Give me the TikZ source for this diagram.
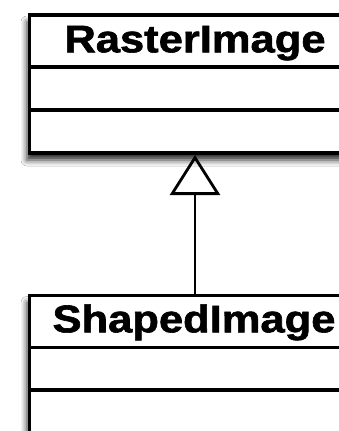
\documentclass[tikz,border=0pt]{standalone}
\usepackage{fontspec}
\setmainfont{Liberation Sans}
\newfontfamily\classfont[FakeBold=1.5]{Liberation Sans Bold}
\usetikzlibrary{arrows.meta,shadows.blur}
\tikzset{
  classbox/.style={draw=black, fill=white, line width=3.2pt, outer sep=0pt,
    minimum width=331pt, minimum height=138pt, inner sep=0pt,
    blur shadow={shadow xshift=-2.5pt, shadow yshift=-7pt, shadow blur radius=6pt, shadow opacity=85}},
  classname/.style={anchor=base, inner sep=0pt, font=\fontsize{38.5pt}{42pt}\classfont},
  sepline/.style={line width=3.2pt},
  inherit/.style={line width=2.8pt, -{Triangle[open, length=40pt, width=50pt, line width=2.8pt]}}
}
\newcommand{\cname}[1]{\scalebox{1.13}[1]{#1}}
\begin{document}
\begin{tikzpicture}[x=1pt,y=1pt]
  \clip (0,0) rectangle (339,-431);
  \fill[white] (0,0) rectangle (339,-431);
  \node[classbox] (raster) at (195,-84) {};
  \node[classbox] (shaped) at (195,-364.5) {};
  \node[classname] (rastername) at (195,-52.3) {\cname{RasterImage}};
  \node[classname] (shapedname) at (194,-332.3) {\cname{ShapedImage}};
  \draw[sepline] ([yshift=-52pt]raster.north west) -- ([yshift=-52pt]raster.north east);
  \draw[sepline] ([yshift=-95pt]raster.north west) -- ([yshift=-95pt]raster.north east);
  \draw[sepline] ([yshift=-52pt]shaped.north west) -- ([yshift=-52pt]shaped.north east);
  \draw[sepline] ([yshift=-94.5pt]shaped.north west) -- ([yshift=-94.5pt]shaped.north east);
  \draw[inherit] (shaped.north) -- ([yshift=-2pt]raster.south);
\end{tikzpicture}
\end{document}
